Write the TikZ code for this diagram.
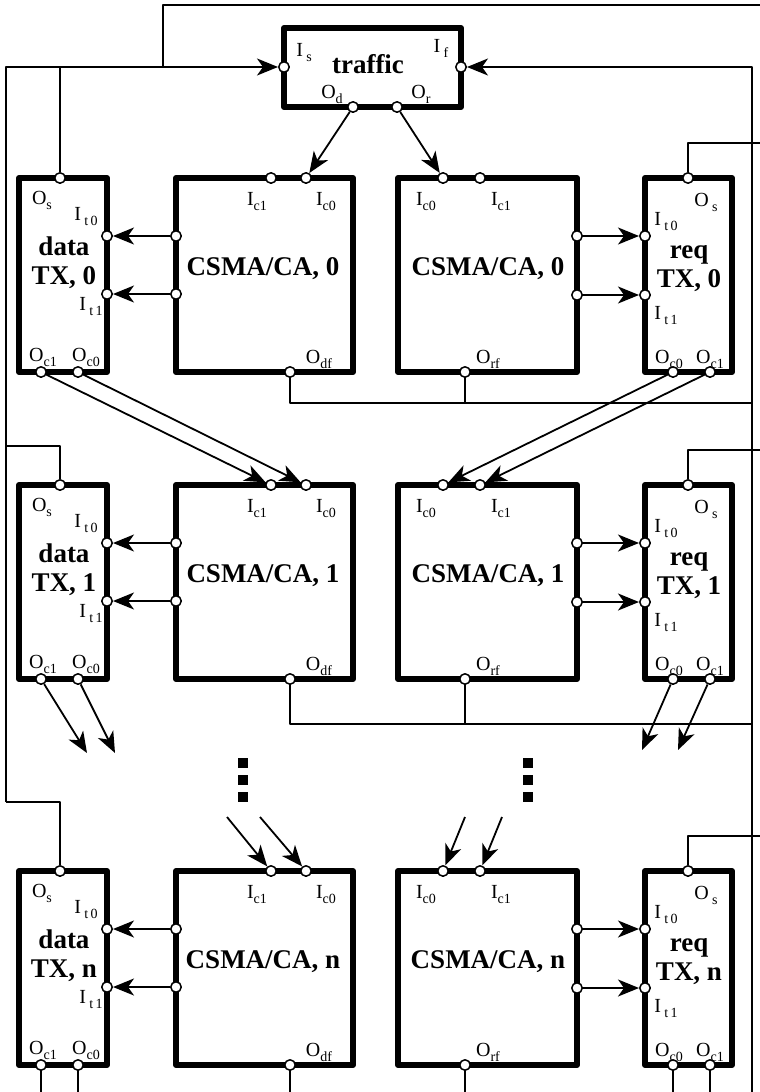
\documentclass[tikz,border=0pt]{standalone}
\usepackage{fontspec}
\setmainfont{Liberation Serif}
\usetikzlibrary{arrows.meta}

% subscript of a port name
\newcommand\psub[1]{\raisebox{-5pt}{\fontsize{14}{14}\selectfont #1}}

\tikzset{
  blk/.style={draw, line width=6pt, line join=round, inner sep=0pt, outer sep=0pt},
  port/.style={circle, draw, fill=white, line width=1.5pt, minimum size=10.5pt, inner sep=0pt},
  wire/.style={line width=1.8pt},
  lbl/.style={font=\fontsize{20}{22}\selectfont, inner sep=0pt},
  ttl/.style={font=\fontsize{27}{29}\selectfont\bfseries, align=center, inner sep=0pt},
}

\begin{document}
\begin{tikzpicture}[x=1pt, y=-1pt, line join=round, >={Stealth[length=21pt,width=17pt,inset=6pt]}]
  \useasboundingbox (0,0) rectangle (760,1092);

  % traffic source
  \node[blk, minimum width=177pt, minimum height=79pt] (trf) at (372.5,67.5) {};
  \node[ttl] (trft) at (368,64) {traffic};
  \node[port] (Is) at (284,67) {};
  \node[port] (If) at (461,67) {};
  \node[port] (Od) at (353,107) {};
  \node[port] (Or) at (397,107) {};
  \node[lbl] (lIs) at (304,53) {I\,\psub{s}};
  \node[lbl] (lIf) at (441,48) {I\,\psub{f}};
  \node[lbl] (lOd) at (332,94) {O\psub{d}};
  \node[lbl] (lOr) at (421,94) {O\psub{r}};

  % one row of blocks per station
  \foreach \r/\yt/\k in {0/178/0, 1/485/1, 2/871/n}{
    % data TX
    \node[blk, minimum width=88pt, minimum height=194pt] (dat\r) at (63,\yt+97) {};
    \node[ttl] (datt\r) at (64,\yt+85) {data\\TX, \k};
    \node[port] (dat\r-os) at (60,\yt) {};
    \node[port] (dat\r-it0) at (107,\yt+58) {};
    \node[port] (dat\r-it1) at (107,\yt+116) {};
    \node[port] (dat\r-oc1) at (41,\yt+194) {};
    \node[port] (dat\r-oc0) at (78,\yt+194) {};
    \node[lbl] (dat\r-los) at (42,\yt+22) {O\psub{s}};
    \node[lbl] (dat\r-lt0) at (86,\yt+39) {I\,\psub{t\,0}};
    \node[lbl] (dat\r-lt1) at (91,\yt+129) {I\,\psub{t\,1}};
    \node[lbl] (dat\r-lc1) at (43,\yt+179) {O\psub{c1}};
    \node[lbl] (dat\r-lc0) at (86,\yt+179) {O\psub{c0}};
    % CSMA/CA, data side
    \node[blk, minimum width=177pt, minimum height=194pt] (cl\r) at (264.5,\yt+97) {};
    \node[ttl] (clt\r) at (263,\yt+91) {CSMA/CA, \k};
    \node[port] (cl\r-ic1) at (271,\yt) {};
    \node[port] (cl\r-ic0) at (306,\yt) {};
    \node[port] (cl\r-o0) at (176,\yt+58) {};
    \node[port] (cl\r-o1) at (176,\yt+116) {};
    \node[port] (cl\r-odf) at (290,\yt+194) {};
    \node[lbl] (cl\r-lc1) at (257,\yt+24) {I\psub{c1}};
    \node[lbl] (cl\r-lc0) at (326,\yt+24) {I\psub{c0}};
    \node[lbl] (cl\r-ldf) at (319,\yt+181) {O\psub{df}};
    % CSMA/CA, req side
    \node[blk, minimum width=179pt, minimum height=194pt] (cr\r) at (487.5,\yt+97) {};
    \node[ttl] (crt\r) at (488,\yt+91) {CSMA/CA, \k};
    \node[port] (cr\r-ic0) at (443,\yt) {};
    \node[port] (cr\r-ic1) at (480,\yt) {};
    \node[port] (cr\r-o0) at (577,\yt+58) {};
    \node[port] (cr\r-o1) at (577,\yt+117) {};
    \node[port] (cr\r-orf) at (465,\yt+194) {};
    \node[lbl] (cr\r-lc0) at (426,\yt+24) {I\psub{c0}};
    \node[lbl] (cr\r-lc1) at (501,\yt+24) {I\psub{c1}};
    \node[lbl] (cr\r-lrf) at (488,\yt+181) {O\psub{rf}};
    % req TX
    \node[blk, minimum width=87pt, minimum height=194pt] (req\r) at (688.5,\yt+97) {};
    \node[ttl] (reqt\r) at (689,\yt+91) {req\\TX, \k};
    \node[port] (req\r-os) at (688,\yt) {};
    \node[port] (req\r-it0) at (645,\yt+58) {};
    \node[port] (req\r-it1) at (645,\yt+117) {};
    \node[port] (req\r-oc0) at (673,\yt+194) {};
    \node[port] (req\r-oc1) at (710,\yt+194) {};
    \node[lbl] (req\r-los) at (706,\yt+24) {O\,\psub{s}};
    \node[lbl] (req\r-lt0) at (666,\yt+44) {I\,\psub{t\,0}};
    \node[lbl] (req\r-lt1) at (666,\yt+138) {I\,\psub{t\,1}};
    \node[lbl] (req\r-lc0) at (669,\yt+181) {O\psub{c0}};
    \node[lbl] (req\r-lc1) at (710,\yt+181) {O\psub{c1}};
    % links inside the row
    \draw[wire,->] (cl\r-o0) -- (dat\r-it0);
    \draw[wire,->] (cl\r-o1) -- (dat\r-it1);
    \draw[wire,->] (cr\r-o0) -- (req\r-it0);
    \draw[wire,->] (cr\r-o1) -- (req\r-it1);
    \coordinate (rw\r) at (760,\yt-35);
    \draw[wire] (req\r-os) |- (rw\r);
  }

  % traffic to the first row
  \draw[wire,->] (Od) -- (cl0-ic0);
  \draw[wire,->] (Or) -- (cr0-ic0);

  % feedback wires
  \coordinate (tr) at (760,5);
  \coordinate (js) at (163,67);
  \coordinate (lb) at (6,802);
  \coordinate (lw1) at (6,446);
  \coordinate (rb) at (752,1092);
  \coordinate (bot) at (0,1092);
  \coordinate (fj0) at (752,403);
  \coordinate (fj1) at (752,724);
  \draw[wire] (js) |- (tr);
  \draw[wire,->] (lb) |- (Is);
  \draw[wire,->] (rb) |- (If);
  \draw[wire] (dat0-os) -- (dat0-os |- Is);
  \draw[wire] (dat1-os) |- (lw1);
  \draw[wire] (dat2-os) |- (lb);
  \draw[wire] (cl0-odf) |- (fj0);
  \draw[wire] (cr0-orf) -- (cr0-orf |- fj0);
  \draw[wire] (cl1-odf) |- (fj1);
  \draw[wire] (cr1-orf) -- (cr1-orf |- fj1);
  \draw[wire] (cl2-odf) -- (cl2-odf |- bot);
  \draw[wire] (cr2-orf) -- (cr2-orf |- bot);
  \draw[wire] (dat2-oc1) -- (dat2-oc1 |- bot);
  \draw[wire] (dat2-oc0) -- (dat2-oc0 |- bot);
  \draw[wire] (req2-oc0) -- (req2-oc0 |- bot);
  \draw[wire] (req2-oc1) -- (req2-oc1 |- bot);

  % row 0 to row 1
  \draw[wire,->] (dat0-oc1) -- (cl1-ic1);
  \draw[wire,->] (dat0-oc0) -- (cl1-ic0);
  \draw[wire,->] (req0-oc0) -- (cr1-ic0);
  \draw[wire,->] (req0-oc1) -- (cr1-ic1);

  % row 1 onwards, and into row n
  \coordinate (d1a) at (87,753);
  \coordinate (d1b) at (115,753);
  \coordinate (q1a) at (642,750);
  \coordinate (q1b) at (678,750);
  \coordinate (dna) at (227,817);
  \coordinate (dnb) at (260,817);
  \coordinate (qna) at (465,817);
  \coordinate (qnb) at (502,817);
  \draw[wire,->] (dat1-oc1) -- (d1a);
  \draw[wire,->] (dat1-oc0) -- (d1b);
  \draw[wire,->] (req1-oc0) -- (q1a);
  \draw[wire,->] (req1-oc1) -- (q1b);
  \draw[wire,->] (dna) -- (cl2-ic1);
  \draw[wire,->] (dnb) -- (cl2-ic0);
  \draw[wire,->] (qna) -- (cr2-ic0);
  \draw[wire,->] (qnb) -- (cr2-ic1);

  % dots
  \foreach \yy in {763,780,797}{
    \fill (238,\yy-5) rectangle +(10,10);
    \fill (523,\yy-5) rectangle +(10,10);
  }
\end{tikzpicture}
\end{document}
